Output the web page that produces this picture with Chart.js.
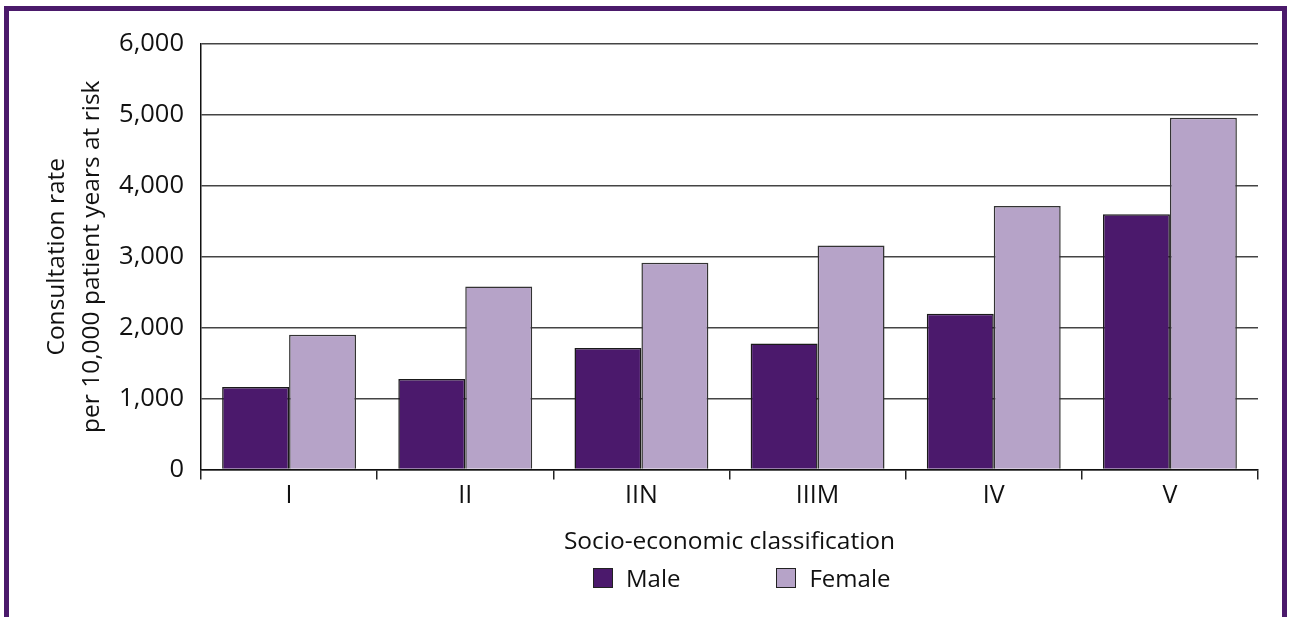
<!DOCTYPE html>
<html lang="en">
<head>
  <meta charset="UTF-8">
  <title>Consultation rate by socio-economic classification</title>
  <script src="https://cdn.jsdelivr.net/npm/chart.js"></script>
  <style>
    html, body {
      margin: 0; padding: 0; background: #fff;
      width: 1290px; height: 617px; overflow: hidden;
      font-family: "Open Sans", sans-serif;
    }
    #frame {
      position: absolute; left: 4px; top: 6px; width: 1273px; height: 620px;
      border: 5px solid #4b1a6b; border-bottom: none;
    }
    #wrap { position: absolute; left: 0; top: 0; width: 1290px; height: 617px; }
    #legend {
      position: absolute; top: 563px; left: 593px;
      display: flex; gap: 96px;
      font-size: 24px; color: #111; line-height: 30px;
    }
    #legend span.item { display: flex; align-items: center; }
    #legend span.box {
      display: inline-block; width: 18px; height: 18px;
      border: 1.5px solid #222; margin-right: 13px;
    }
  </style>
</head>
<body>
  <div id="frame"></div>
  <div id="wrap"><canvas id="chart" width="1290" height="617"></canvas></div>
  <div id="legend"></div>

  <script>
    const categories = ['I', 'II', 'IIN', 'IIIM', 'IV', 'V'];
    const maleRates = [1165, 1275, 1715, 1775, 2195, 3600];
    const femaleRates = [1900, 2580, 2915, 3160, 3715, 4960];
    const yTicks = [0, 1000, 2000, 3000, 4000, 5000, 6000];

    const FONT = '"Open Sans", sans-serif';

    const chart = new Chart(document.getElementById('chart'), {
      type: 'bar',
      data: {
        labels: categories,
        datasets: [
          {
            label: 'Male', data: maleRates,
            backgroundColor: '#4b196c', borderColor: '#1a1a1a', borderWidth: 1.5,
            categoryPercentage: 0.76, barPercentage: 1.0
          },
          {
            label: 'Female', data: femaleRates,
            backgroundColor: '#b6a3c8', borderColor: '#333', borderWidth: 1.5,
            categoryPercentage: 0.76, barPercentage: 1.0
          }
        ]
      },
      options: {
        responsive: false, animation: false,
        layout: { padding: { left: 40, right: 32, top: 44, bottom: 60 } },
        plugins: { legend: { display: false }, tooltip: { enabled: false } },
        scales: {
          x: {
            grid: { drawOnChartArea: false, drawTicks: true, tickLength: 10, color: '#222', lineWidth: 1.5 },
            border: { color: '#111', width: 1.5 },
            ticks: { color: '#111', font: { family: FONT, size: 25 }, padding: 1 },
            title: {
              display: true, text: 'Socio-economic classification',
              color: '#111', font: { family: FONT, size: 24.5 }, padding: { top: 10, bottom: 0 }
            },
            afterFit: s => { s.height = 617 - 60 - 469.5; }
          },
          y: {
            min: 0, max: 6000,
            afterBuildTicks: s => { s.ticks = yTicks.map(v => ({ value: v })); },
            grid: { color: '#444', lineWidth: 1.5, drawTicks: false },
            border: { color: '#111', width: 1.5 },
            ticks: {
              color: '#111', font: { family: FONT, size: 25.5 }, padding: 17,
              callback: v => v.toLocaleString('en-US')
            },
            title: {
              display: true, text: ['Consultation rate', 'per 10,000 patient years at risk'],
              color: '#111', font: { family: FONT, size: 24.5, lineHeight: 1.42 }, padding: 0
            },
            afterFit: s => { s.width = 201 - 40; }
          }
        }
      }
    });

    const legendEl = document.getElementById('legend');
    chart.data.datasets.forEach(ds => {
      const item = document.createElement('span');
      item.className = 'item';
      const box = document.createElement('span');
      box.className = 'box';
      box.style.background = ds.backgroundColor;
      item.appendChild(box);
      item.appendChild(document.createTextNode(ds.label));
      legendEl.appendChild(item);
    });
  </script>
</body>
</html>
